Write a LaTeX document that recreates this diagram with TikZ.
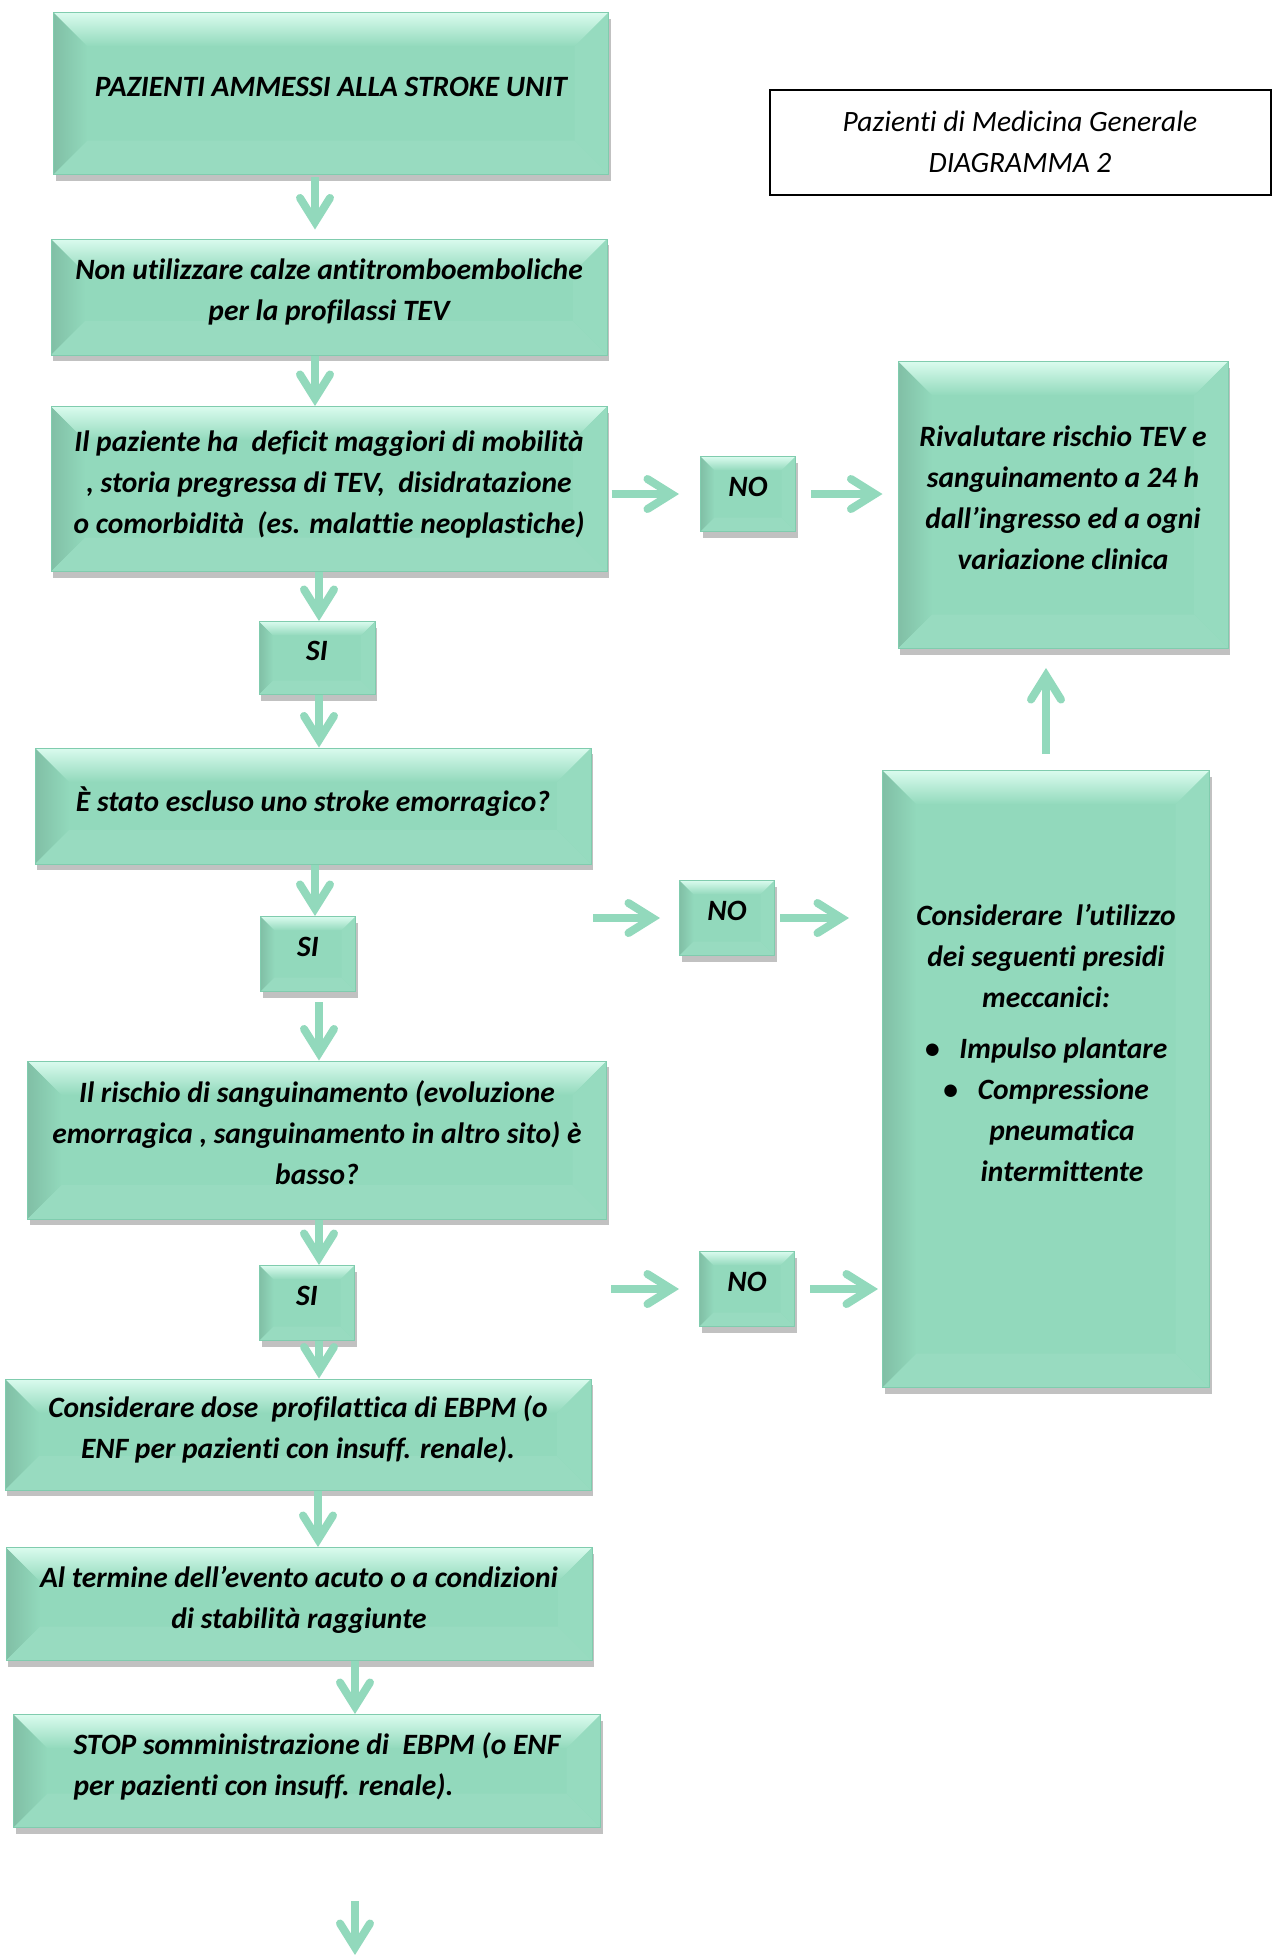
\documentclass[tikz,border=0pt]{standalone}
\usepackage{fontspec}
\setmainfont{Carlito}[Ligatures=NoCommon]
\usetikzlibrary{arrows.meta,shadows}

\definecolor{mint}{RGB}{146,217,188}
\definecolor{minttop}{RGB}{218,251,238}
\definecolor{mintline}{RGB}{128,204,174}

\tikzset{
  bevel/.store in=\bev, bevel=34pt,
  stepbox/.style={rectangle, fill=mint, draw=mintline, line width=1pt,
    inner sep=0pt, align=center, text depth=14pt,
    font=\bfseries\itshape\fontsize{29.5}{41}\selectfont,
    drop shadow={shadow xshift=2pt, shadow yshift=-6pt, opacity=.35, fill=black!70},
    path picture={
      \coordinate (bnw) at (path picture bounding box.north west);
      \coordinate (bne) at (path picture bounding box.north east);
      \coordinate (bse) at (path picture bounding box.south east);
      \coordinate (bsw) at (path picture bounding box.south west);
      \coordinate (inw) at ([xshift=\bev,yshift=-\bev]bnw);
      \coordinate (ine) at ([xshift=-\bev,yshift=-\bev]bne);
      \coordinate (ise) at ([xshift=-\bev,yshift=\bev]bse);
      \coordinate (isw) at ([xshift=\bev,yshift=\bev]bsw);
      \shade[top color=minttop, bottom color=mint] (bnw) -- (bne) -- (ine) -- (inw) -- cycle;
      \shade[left color=mint!88!black, right color=mint] (bnw) -- (inw) -- (isw) -- (bsw) -- cycle;
      \fill[mint!96!white] (bne) -- (ine) -- (ise) -- (bse) -- cycle;
      \fill[mint!94!white] (bsw) -- (isw) -- (ise) -- (bse) -- cycle;
    }},
  smallbox/.style={stepbox, bevel=14pt, minimum width=95pt, minimum height=75pt},
  flow/.style={draw=mint, line width=8pt,
    -{Straight Barb[length=24pt,width=30pt,line cap=round]}},
}

\begin{document}
\begin{tikzpicture}[x=1pt, y=-1pt]
\useasboundingbox (0,0) rectangle (1278,1955);

% title
\node[draw=black, line width=2pt, fill=white, minimum width=501pt, minimum height=105pt,
  align=center, font=\itshape\fontsize{29.5}{41}\selectfont] (title) at (1020,142)
  {Pazienti di Medicina Generale\\DIAGRAMMA 2};

% main column
\node[stepbox, minimum width=555pt, minimum height=162pt] (b1) at (331,93.5)
  {PAZIENTI AMMESSI ALLA STROKE UNIT};
\node[stepbox, minimum width=556pt, minimum height=116pt] (b2) at (329,297)
  {Non utilizzare calze antitromboemboliche\\per la profilassi TEV};
\node[stepbox, minimum width=556pt, minimum height=165pt] (b3) at (329,489)
  {Il paziente ha\ \ deficit maggiori di mobilità\\, storia pregressa di TEV,\ \ disidratazione\\o comorbidità\ \ (es. malattie neoplastiche)};
\node[smallbox, minimum width=116pt, minimum height=73pt] (si1) at (317,658) {SI};
\node[stepbox, minimum width=556pt, minimum height=116pt] (b4) at (313,806)
  {È stato escluso uno stroke emorragico?};
\node[smallbox] (si2) at (308,954) {SI};
\node[stepbox, minimum width=579pt, minimum height=158pt] (b5) at (317,1140)
  {Il rischio di sanguinamento (evoluzione\\emorragica , sanguinamento in altro sito) è\\basso?};
\node[smallbox] (si3) at (307,1303) {SI};
\node[stepbox, minimum width=586pt, minimum height=111pt] (b6) at (298,1434.5)
  {Considerare dose\ \ profilattica di EBPM (o\\ENF per pazienti con insuff. renale).};
\node[stepbox, minimum width=586pt, minimum height=113pt] (b7) at (299,1604)
  {Al termine dell’evento acuto o a condizioni\\di stabilità raggiunte};
\node[stepbox, minimum width=587pt, minimum height=113pt, align=left] (b8) at (307,1771)
  {\hspace*{20pt}STOP somministrazione di\ \ EBPM (o ENF\\\hspace*{20pt}per pazienti con insuff. renale).};

% right column
\node[smallbox] (no1) at (748,494) {NO};
\node[smallbox] (no2) at (727,918) {NO};
\node[smallbox] (no3) at (747,1289) {NO};
\node[stepbox, minimum width=330pt, minimum height=287pt] (r1) at (1063,505)
  {Rivalutare rischio TEV e\\sanguinamento a 24 h\\dall’ingresso ed a ogni\\variazione clinica};
\node[stepbox, minimum width=327pt, minimum height=617pt] (r2) at (1046,1079)
  {Considerare\ \ l’utilizzo\\dei seguenti presidi\\meccanici:\\[10pt]
   \textbullet\hspace{20pt}Impulso plantare\\
   \textbullet\hspace{20pt}Compressione\\
   \hspace*{32pt}pneumatica\\
   \hspace*{32pt}intermittente\\[18pt]\mbox{}};

\coordinate (in2) at (593,918);
\coordinate (in3) at (611,1289);
\coordinate (end1) at (355,1901);
\coordinate (end2) at (355,1955);

% connectors
\draw[flow, shorten <=2pt, shorten >=9pt] ([xshift=-16pt]b1.south) -- ([xshift=-16pt]b1.south |- b2.north);
\draw[flow] ([xshift=-14pt]b2.south) -- ([xshift=-14pt]b2.south |- b3.north);
\draw[flow] ([xshift=-10pt]b3.south) -- ([xshift=-10pt]b3.south |- si1.north);
\draw[flow] ([xshift=2pt]si1.south) -- ([xshift=2pt]si1.south |- b4.north);
\draw[flow] ([xshift=2pt]b4.south) -- ([xshift=2pt]b4.south |- si2.north);
\draw[flow, shorten <=10pt] ([xshift=11pt]si2.south) -- ([xshift=11pt]si2.south |- b5.north);
\draw[flow] ([xshift=2pt]b5.south) -- ([xshift=2pt]b5.south |- si3.north);
\draw[flow] ([xshift=12pt]si3.south) -- ([xshift=12pt]si3.south |- b6.north);
\draw[flow] ([xshift=20pt]b6.south) -- ([xshift=20pt]b6.south |- b7.north);
\draw[flow] ([xshift=56pt]b7.south) -- ([xshift=56pt]b7.south |- b8.north);
\draw[flow] (end1) -- (end2);

\draw[flow, shorten <=4pt, shorten >=21pt] (b3.east |- no1) -- (no1.west);
\draw[flow, shorten <=15pt, shorten >=15pt] (no1.east) -- (no1 -| r1.west);
\draw[flow, shorten >=19pt] (in2) -- (no2.west);
\draw[flow, shorten <=5pt, shorten >=33pt] (no2.east) -- (no2 -| r2.west);
\draw[flow, shorten >=20pt] (in3) -- (no3.west);
\draw[flow, shorten <=15pt, shorten >=4pt] (no3.east) -- (no3 -| r2.west);
\draw[flow, shorten <=16pt, shorten >=19pt] (r2.north) -- (r2.north |- r1.south);
\end{tikzpicture}
\end{document}
